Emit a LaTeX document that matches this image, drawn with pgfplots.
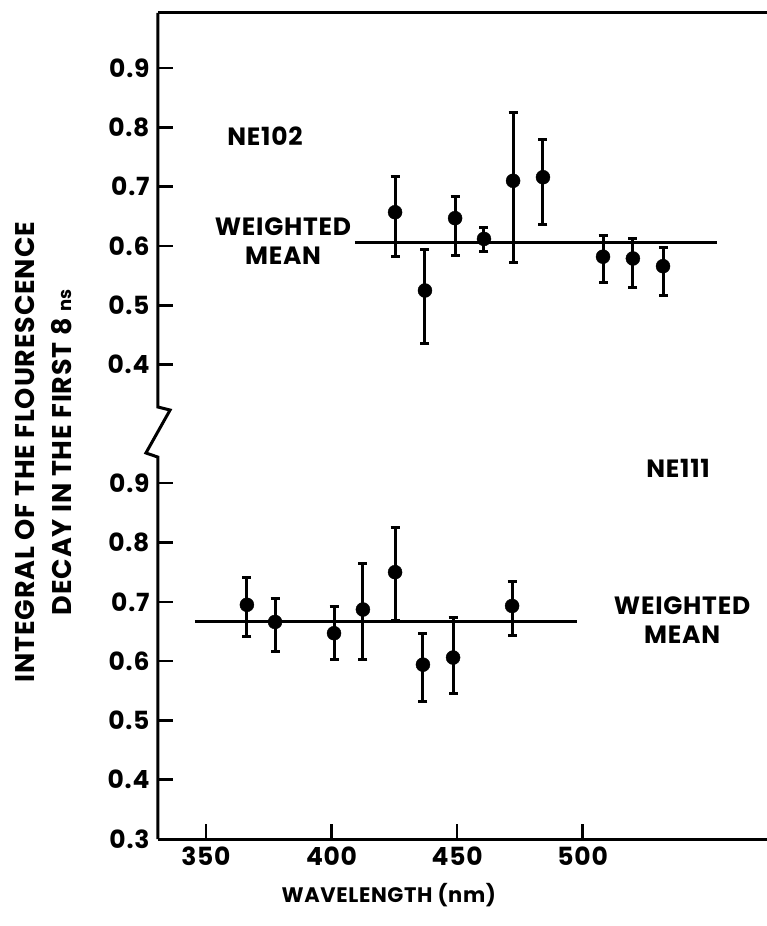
\documentclass[border=0pt]{standalone}
\usepackage{fontspec}
\setmainfont{Poppins}[LetterSpace=3]
\usepackage{pgfplots}
\usepackage{pgfplotstable}
\pgfplotsset{compat=1.18}
\pgfplotstableread{
x y ep em
425.3 0.657 0.060 0.075
437.2 0.525 0.069 0.090
449.2 0.647 0.036 0.063
460.7 0.612 0.020 0.021
472.3 0.710 0.115 0.137
484.2 0.716 0.063 0.079
508.1 0.582 0.035 0.043
520.0 0.579 0.033 0.049
532.0 0.566 0.032 0.049
}\upperdata
\pgfplotstableread{
x y ep em
366.3 0.695 0.046 0.053
377.5 0.666 0.040 0.050
401.0 0.647 0.045 0.045
412.5 0.687 0.077 0.085
425.3 0.750 0.075 0.081
436.4 0.594 0.053 0.062
448.4 0.606 0.067 0.060
471.9 0.693 0.042 0.049
}\lowerdata
\begin{document}
\begin{tikzpicture}
\useasboundingbox (-158pt,-87pt) rectangle (609pt,839pt);
\begin{axis}[
  at={(0,0)}, anchor=south west,
  scale only axis, width=609pt, height=826pt,
  xmin=330.9, xmax=573.4, ymin=0.3, ymax=1.693,
  separate axis lines,
  y axis line style={draw=none},
  x axis line style={line width=3pt},
  xtick={350,400,450,500},
  xtick pos=left, ytick pos=left,
  tick align=inside,
  major tick length=15pt,
  tick style={line width=2.5pt, black},
  ytick={0.3,0.4,0.5,0.6,0.7,0.8,0.9,1.1,1.2,1.3,1.4,1.5,1.6},
  yticklabels={0.3,0.4,0.5,0.6,0.7,0.8,0.9,0.4,0.5,0.6,0.7,0.8,0.9},
  /pgf/number format/assume math mode=true,
  tick label style={font=\fontsize{25}{25}\selectfont\bfseries},
  yticklabel style={xshift=-5pt},
  xticklabel style={yshift=-4pt},
  xlabel={WAVELENGTH (nm)},
  x label style={at={(axis description cs:0.379,-0.068)},anchor=center,font=\fontsize{21}{21}\selectfont\bfseries},
  clip=false,
]
% mean lines
\addplot[black, line width=3pt] coordinates {(345.6,0.667) (497.7,0.667)};
\addplot[black, line width=3pt, y filter/.expression={y+0.7}] coordinates {(409.3,0.606) (553.5,0.606)};
% data
\addplot[black, only marks, mark=*, mark size=7pt,
  y filter/.expression={y+0.7},
  error bars/.cd, y dir=both, y explicit,
  error bar style={line width=3pt},
  error mark options={rotate=90, mark size=4.5pt, line width=3pt}]
  table[x=x, y=y, y error plus=ep, y error minus=em] {\upperdata};
\addplot[black, only marks, mark=*, mark size=7pt,
  error bars/.cd, y dir=both, y explicit,
  error bar style={line width=3pt},
  error mark options={rotate=90, mark size=4.5pt, line width=3pt}]
  table[x=x, y=y, y error plus=ep, y error minus=em] {\lowerdata};
% left spine with break
\draw[line width=3pt, line join=miter] (axis cs:330.9,1.693) -- (axis cs:330.9,1.0285) -- (axis cs:335.7,1.0234) -- (axis cs:326.1,0.951) -- (axis cs:330.9,0.944) -- (axis cs:330.9,0.3);
% texts
\node[font=\fontsize{25}{25}\selectfont\bfseries] at (axis cs:373.5,1.4855) {NE102};
\node[font=\fontsize{25}{29.5}\selectfont\bfseries, align=center] at (axis cs:380.7,1.3084) {WEIGHTED\\MEAN};
\node[font=\fontsize{25}{25}\selectfont\bfseries] at (axis cs:538.0,0.9256) {NE111};
\node[font=\fontsize{25}{29.5}\selectfont\bfseries, align=center] at (axis cs:539.6,0.6693) {WEIGHTED\\MEAN};
\node[rotate=90, align=center, font=\fontsize{27}{37}\selectfont\bfseries] at (axis description cs:-0.188,0.4685) {INTEGRAL OF THE FLOURESCENCE\\DECAY IN THE FIRST 8 {\fontsize{18}{18}\selectfont ns}};
\end{axis}
\end{tikzpicture}
\end{document}
